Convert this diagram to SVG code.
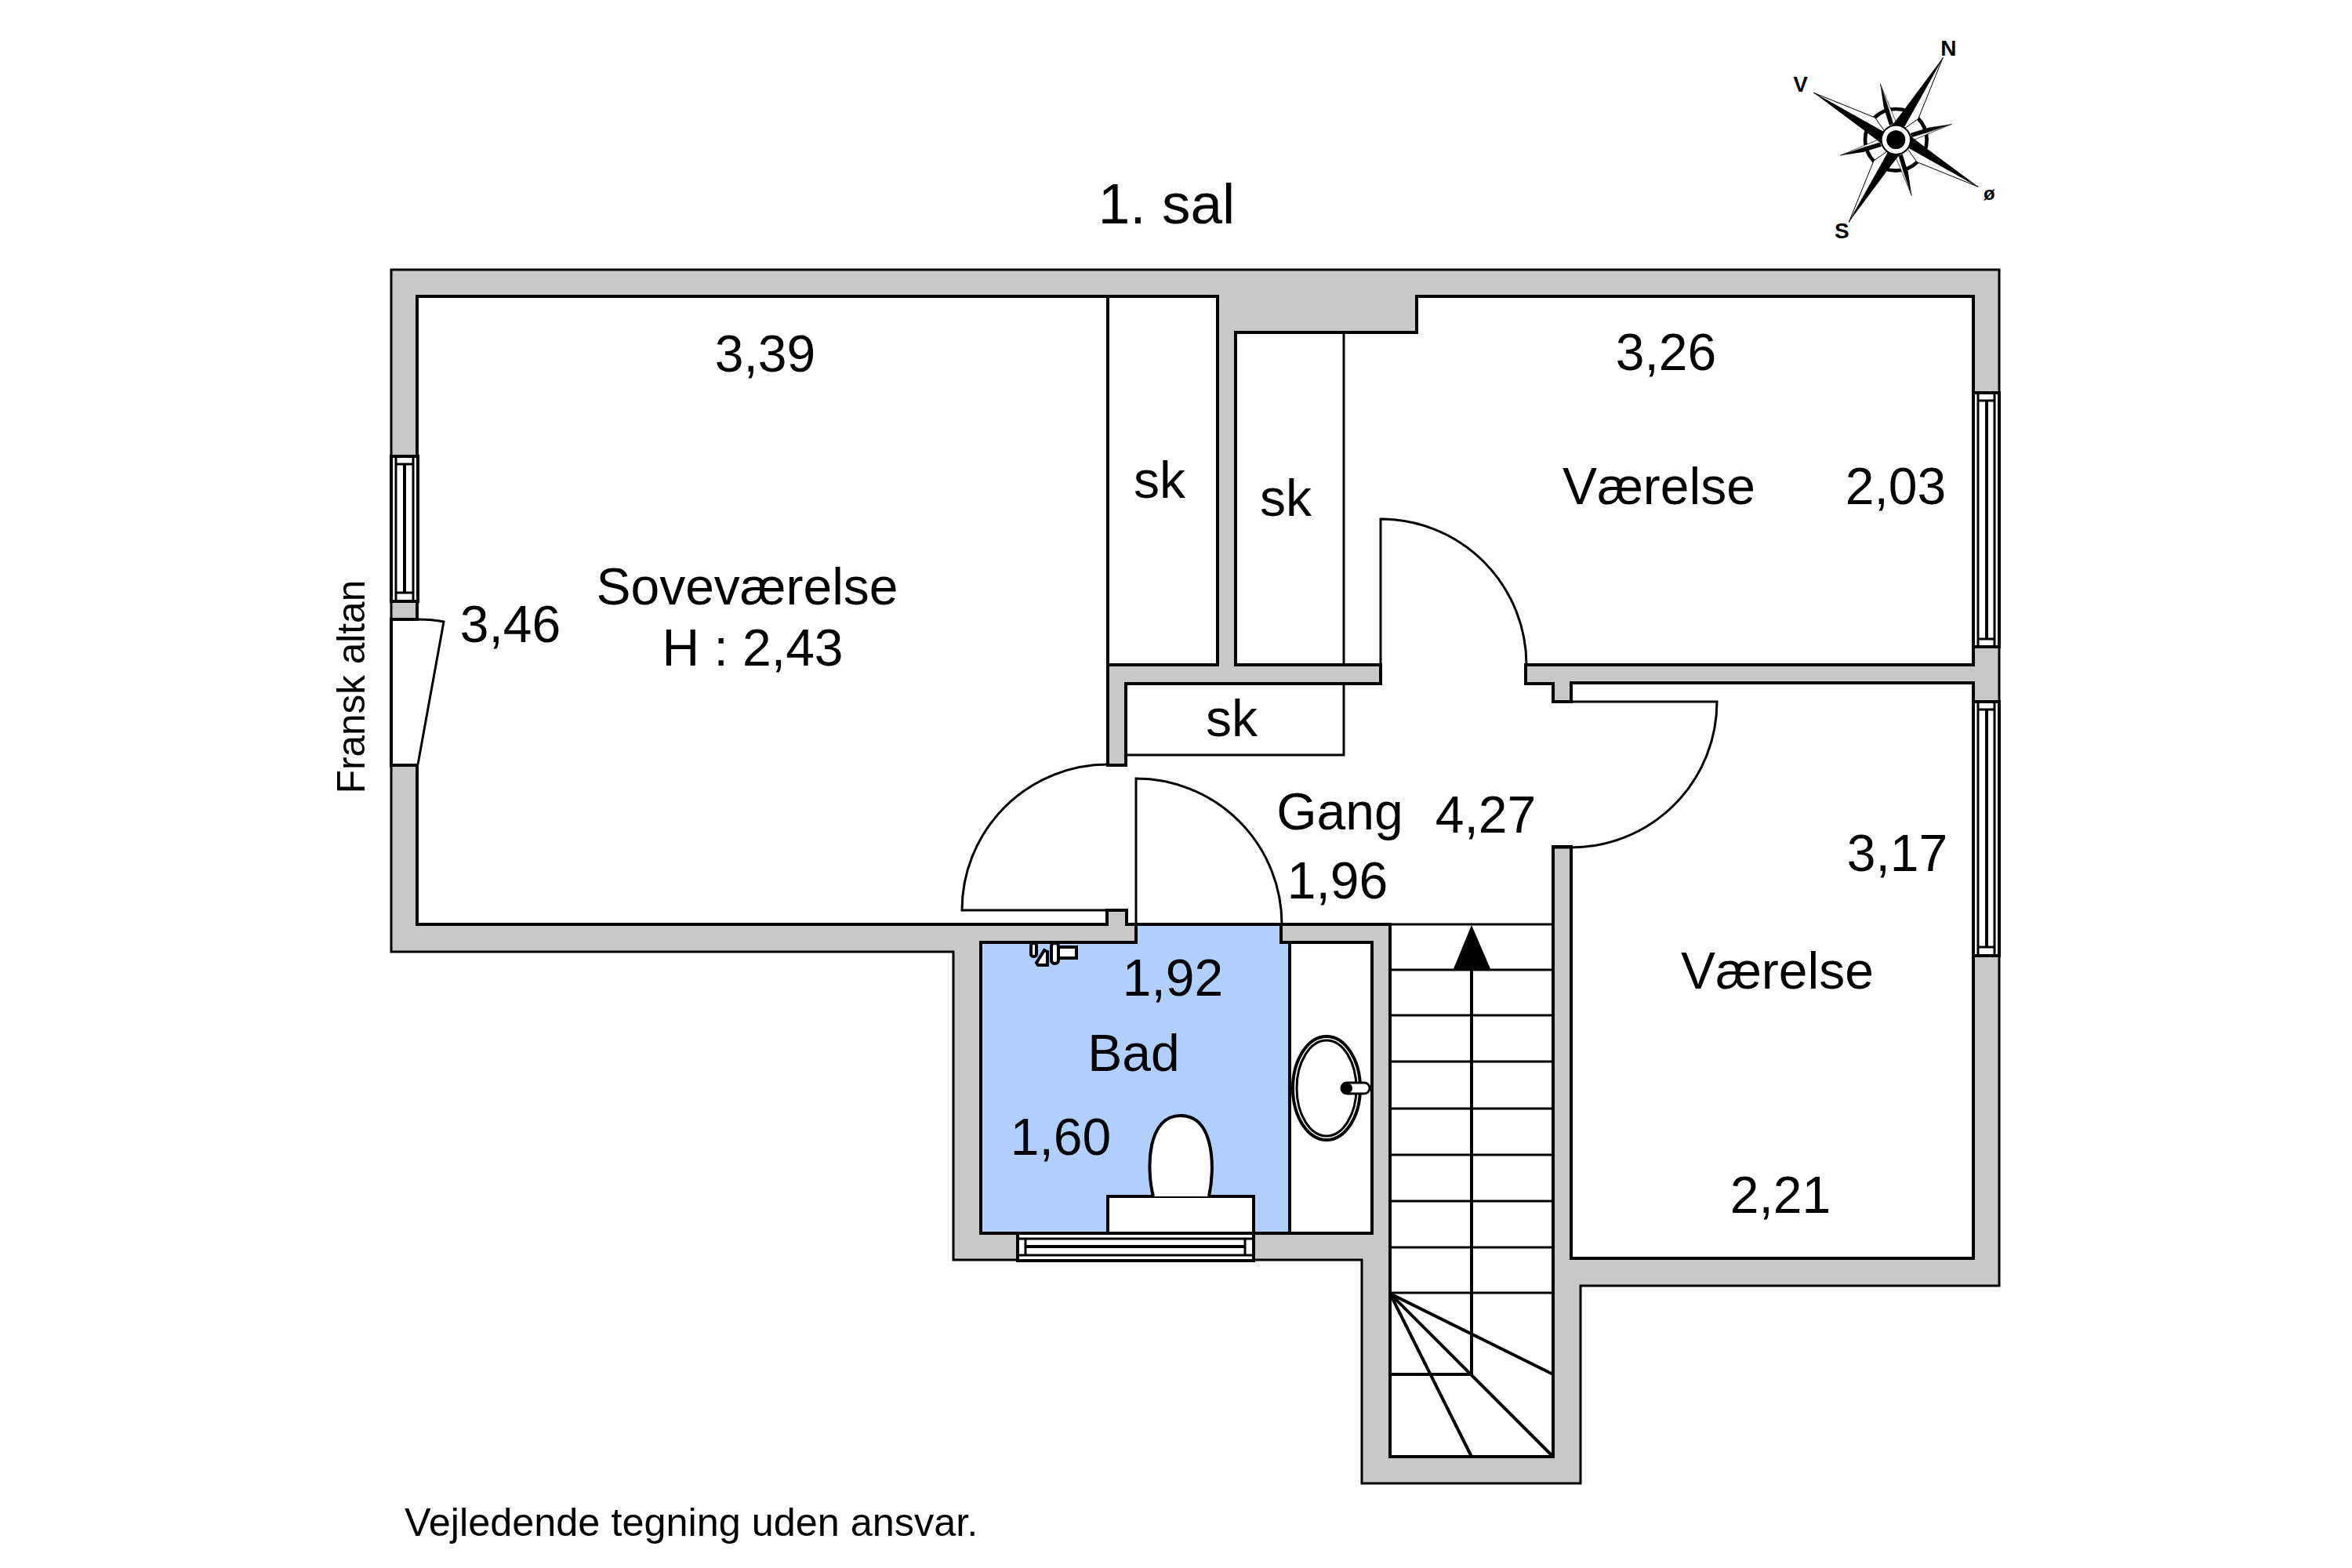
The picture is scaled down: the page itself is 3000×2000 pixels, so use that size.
<svg xmlns="http://www.w3.org/2000/svg" width="3000" height="2000" viewBox="0 0 3000 2000">
<style>
.w{fill:#c8c8c8;stroke:#000;stroke-width:3;stroke-linejoin:miter}
.f{fill:#fff;stroke:#000;stroke-width:4}
.l{fill:none;stroke:#000;stroke-width:3}
.b{fill:none;stroke:#000;stroke-width:4}
.t{font-family:"Liberation Sans",Arial,sans-serif;font-size:66px;fill:#000;text-anchor:middle}
.c{font-family:"Liberation Sans",Arial,sans-serif;font-weight:bold;fill:#000;text-anchor:middle}
</style>
<defs>
<g id="arm">
<polygon points="180,-315 35,-120 -15,-55 30,-45" fill="#000"/>
<polygon points="180,-315 85,-80 35,-45 30,-48" fill="#fff" stroke="#000" stroke-width="3"/>
</g>
<g id="small">
<polygon points="-60,-213 -47,-125 -25,-55 -10,-60 -30,-125" fill="#000"/>
<polygon points="-60,-213 -30,-125 -10,-60 3,-62" fill="#fff" stroke="#000" stroke-width="2"/>
</g>
</defs>
<rect width="3000" height="2000" fill="#fff"/>
<g id="walls">
<path class="w" d="M499,344 H2550 V1640 H2016 V1892 H1737 V1607 H1216 V1214 H499 Z"/>
<path class="f" d="M532,378 H1413 V976 H1436 V872 H1761 V848 H1576 V424 H1807 V378 H2517 V848 H1946 V872 H1981 V895 H2004 V871 H2517 V1605 H2004 V1080 H1981 V1858 H1773 V1179 H1449 H1437 V1161 H1412 V1179 H532 V976 H499 V790 H532 Z"/>
<rect class="f" x="1413" y="378" width="140" height="470"/>
<path class="l" d="M1714,424 V848 M1714,872 V963 H1436"/>
</g>
<g id="bath">
<path d="M1449,1179 H1634 V1202 H1645 V1573 H1251 V1202 H1449 Z" fill="#b0cfff" stroke="#000" stroke-width="4"/>
<rect class="f" x="1645" y="1202" width="105" height="371"/>
<rect class="f" x="1413" y="1526" width="186" height="47"/>
<path class="f" d="M1471,1526 C1462,1490 1463,1423 1506,1423 C1549,1423 1550,1490 1542,1526"/>
<ellipse class="f" cx="1692" cy="1388" rx="43" ry="66" stroke-width="3"/>
<ellipse class="l" cx="1692" cy="1388" rx="38" ry="61"/>
<rect x="1711" y="1381" width="36" height="14" rx="7" fill="#fff" stroke="#000" stroke-width="3"/>
<circle cx="1718" cy="1388" r="7" fill="#000"/>
<g id="tap" fill="#fff" stroke="#000" stroke-width="4">
<rect x="1315" y="1203" width="7" height="17" rx="3"/>
<rect x="1341" y="1203" width="9" height="26" rx="4"/>
<rect x="1350" y="1208" width="23" height="14"/>
<path d="M1322,1228 L1332,1212 L1336,1214 V1231 H1324 Z"/>
</g>
</g>
<g id="windows">
<g id="win-bath">
<rect class="f" x="1298" y="1573" width="301" height="35" stroke-width="3"/>
<path class="l" d="M1298,1580 H1599 M1298,1601 H1599 M1308,1580 V1601 M1588,1580 V1601"/><path class="b" d="M1308,1590 H1588"/>
</g>
<g id="win-left">
<rect class="f" x="499" y="582" width="34" height="185" stroke-width="3"/>
<path class="l" d="M505,582 V767 M527,582 V767 M505,592 H527 M505,756 H527"/><path class="b" d="M516,592 V756"/>
</g>
<g id="win-right-1">
<rect class="f" x="2517" y="501" width="33" height="324" stroke-width="3"/>
<path class="l" d="M2523,501 V825 M2544,501 V825 M2523,511 H2544 M2523,815 H2544"/><path class="b" d="M2534,511 V815"/>
</g>
<g id="win-right-2">
<rect class="f" x="2517" y="895" width="33" height="324" stroke-width="3"/>
<path class="l" d="M2523,895 V1219 M2544,895 V1219 M2523,905 H2544 M2523,1208 H2544"/><path class="b" d="M2534,905 V1208"/>
</g>
</g>
<g id="doors">
<path class="l" d="M532,790 Q552,790 566,793 L533,975"/>
<path class="l" d="M1412,1161 H1227 A186,186 0 0 1 1413,975"/>
<path class="l" d="M1449,1179 V993 A186,186 0 0 1 1635,1179"/>
<path class="l" d="M1761,848 V662 A186,186 0 0 1 1947,848"/>
<path class="l" d="M1981,895 H2190 A186,186 0 0 1 2004,1081 H1981"/>
</g>
<g id="stairs">
<path class="l" d="M1773,1179 H1981 M1773,1237 H1981 M1773,1295 H1981 M1773,1354 H1981 M1773,1414 H1981 M1773,1473 H1981 M1773,1532 H1981 M1773,1591 H1981 M1773,1649 H1981"/>
<path class="b" d="M1877,1237 V1753 H1773 M1773,1650 L1981,1753 M1773,1650 L1981,1858 M1773,1650 L1877,1858"/>
<polygon points="1877,1180 1853,1238 1902,1238" fill="#000"/>
</g>
<g id="labels">
<text class="t" x="1488" y="285" style="font-size:73px">1. sal</text>
<text class="t" x="976" y="474">3,39</text>
<text class="t" x="2125" y="472">3,26</text>
<text class="t" x="2116" y="643">Værelse</text>
<text class="t" x="2418" y="643">2,03</text>
<text class="t" x="1479" y="635">sk</text>
<text class="t" x="1640" y="658">sk</text>
<text class="t" x="1571" y="939">sk</text>
<text class="t" x="953" y="771">Soveværelse</text>
<text class="t" x="960" y="849">H : 2,43</text>
<text class="t" x="651" y="819">3,46</text>
<text class="t" x="1709" y="1058">Gang</text>
<text class="t" x="1895" y="1062">4,27</text>
<text class="t" x="1706" y="1146">1,96</text>
<text class="t" x="2420" y="1111">3,17</text>
<text class="t" x="2267" y="1261">Værelse</text>
<text class="t" x="2271" y="1547">2,21</text>
<text class="t" x="1496" y="1270">1,92</text>
<text class="t" x="1446" y="1366">Bad</text>
<text class="t" x="1353" y="1473">1,60</text>
<text class="t" transform="translate(465,876) rotate(-90)" style="font-size:49.5px">Fransk altan</text>
<text class="t" x="516" y="1959" style="font-size:50.4px;text-anchor:start">Vejledende tegning uden ansvar.</text>
</g>
<g id="compass" transform="translate(2250,20) scale(0.3333)">
<circle cx="505" cy="475" r="118" fill="none" stroke="#000" stroke-width="14"/>
<g transform="translate(505,475)">
<use href="#small"/><use href="#small" transform="rotate(90)"/><use href="#small" transform="rotate(180)"/><use href="#small" transform="rotate(270)"/>
<use href="#arm"/><use href="#arm" transform="rotate(90)"/><use href="#arm" transform="rotate(180)"/><use href="#arm" transform="rotate(270)"/>
<circle r="56" fill="#fff" stroke="#000" stroke-width="6"/>
<circle r="36" fill="#000"/>
</g>
<text class="c" x="706" y="153" font-size="84">N</text>
<text class="c" x="140" y="292" font-size="84">V</text>
<text class="c" x="862" y="704" font-size="72">ø</text>
<text class="c" x="298" y="852" font-size="84">S</text>
</g>
</svg>
